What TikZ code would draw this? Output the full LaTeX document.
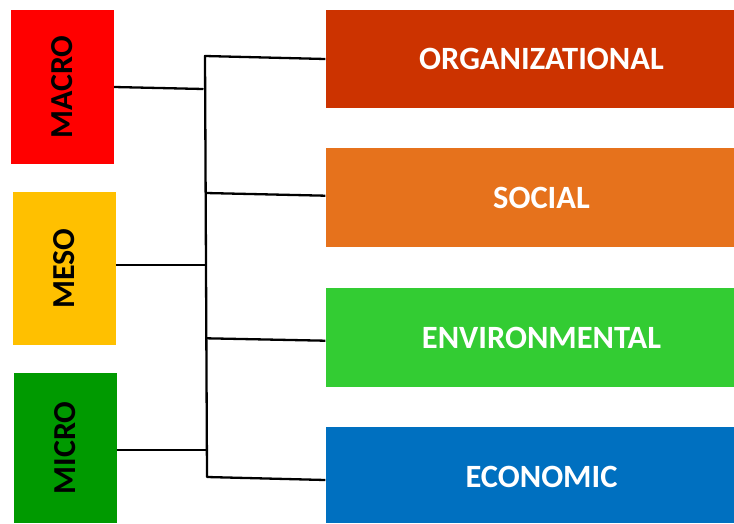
\documentclass[tikz,border=0pt]{standalone}
\usepackage{fontspec}
\setmainfont{Carlito}
\definecolor{cmacro}{HTML}{FF0000}
\definecolor{cmeso}{HTML}{FFC000}
\definecolor{cmicro}{HTML}{009A00}
\definecolor{corg}{HTML}{CC3300}
\definecolor{csoc}{HTML}{E6721C}
\definecolor{cenv}{HTML}{33CC33}
\definecolor{ceco}{HTML}{0070C0}
\begin{document}
\begin{tikzpicture}[x=1pt,y=-1pt,
  levelbox/.style={rectangle,draw=none,minimum width=103pt,inner sep=0pt,
    font=\fontsize{32}{32}\selectfont\bfseries,text=black},
  dimbox/.style={rectangle,draw=none,minimum width=408.5pt,inner sep=0pt},
  dimtext/.style={font=\fontsize{32.5}{32.5}\selectfont\bfseries,text=white},
  link/.style={draw=black,line width=2.3pt,line join=round}]
\useasboundingbox (0,0) rectangle (734,523);
% level boxes
\node[levelbox,fill=cmacro,minimum height=154pt] (macro) at (62.5,87) {\rotatebox{90}{MACRO}};
\node[levelbox,fill=cmeso,minimum height=153pt] (meso) at (64.5,268.5) {\rotatebox{90}{MESO}};
\node[levelbox,fill=cmicro,minimum height=150pt] (micro) at (65,448) {\rotatebox{90}{MICRO}};
% dimension boxes
\node[dimbox,fill=corg,minimum height=98pt,label={[dimtext,xshift=11.75pt]center:ORGANIZATIONAL}] (org) at (529.75,59) {};
\node[dimbox,fill=csoc,minimum height=99pt,label={[dimtext,xshift=11.75pt]center:SOCIAL}] (soc) at (529.75,197.5) {};
\node[dimbox,fill=cenv,minimum height=99pt,label={[dimtext,xshift=11.75pt]center:ENVIRONMENTAL}] (env) at (529.75,337.5) {};
\node[dimbox,fill=ceco,minimum height=96pt,label={[dimtext,xshift=11.75pt,yshift=-2pt]center:ECONOMIC}] (eco) at (529.75,475) {};
% trunk junctions
\coordinate (ttop) at (205,56);
\coordinate (jmacro) at (203.5,89);
\coordinate (jsoc) at (206,193);
\coordinate (jmeso) at (205.8,265);
\coordinate (jenv) at (206.4,338.3);
\coordinate (jmicro) at (206.8,450);
\coordinate (tbot) at (207,477);
% connectors
\draw[link] (org.west) -- (ttop) -- (tbot) -- ([yshift=-5pt]eco.west);
\draw[link] (macro.east) -- (jmacro);
\draw[link] (jsoc) -- ([yshift=1.8pt]soc.west);
\draw[link] ([yshift=3.5pt]meso.east) -- (jmeso);
\draw[link] (jenv) -- ([yshift=-3.2pt]env.west);
\draw[link] ([yshift=-2pt]micro.east) -- (jmicro);
\end{tikzpicture}
\end{document}
